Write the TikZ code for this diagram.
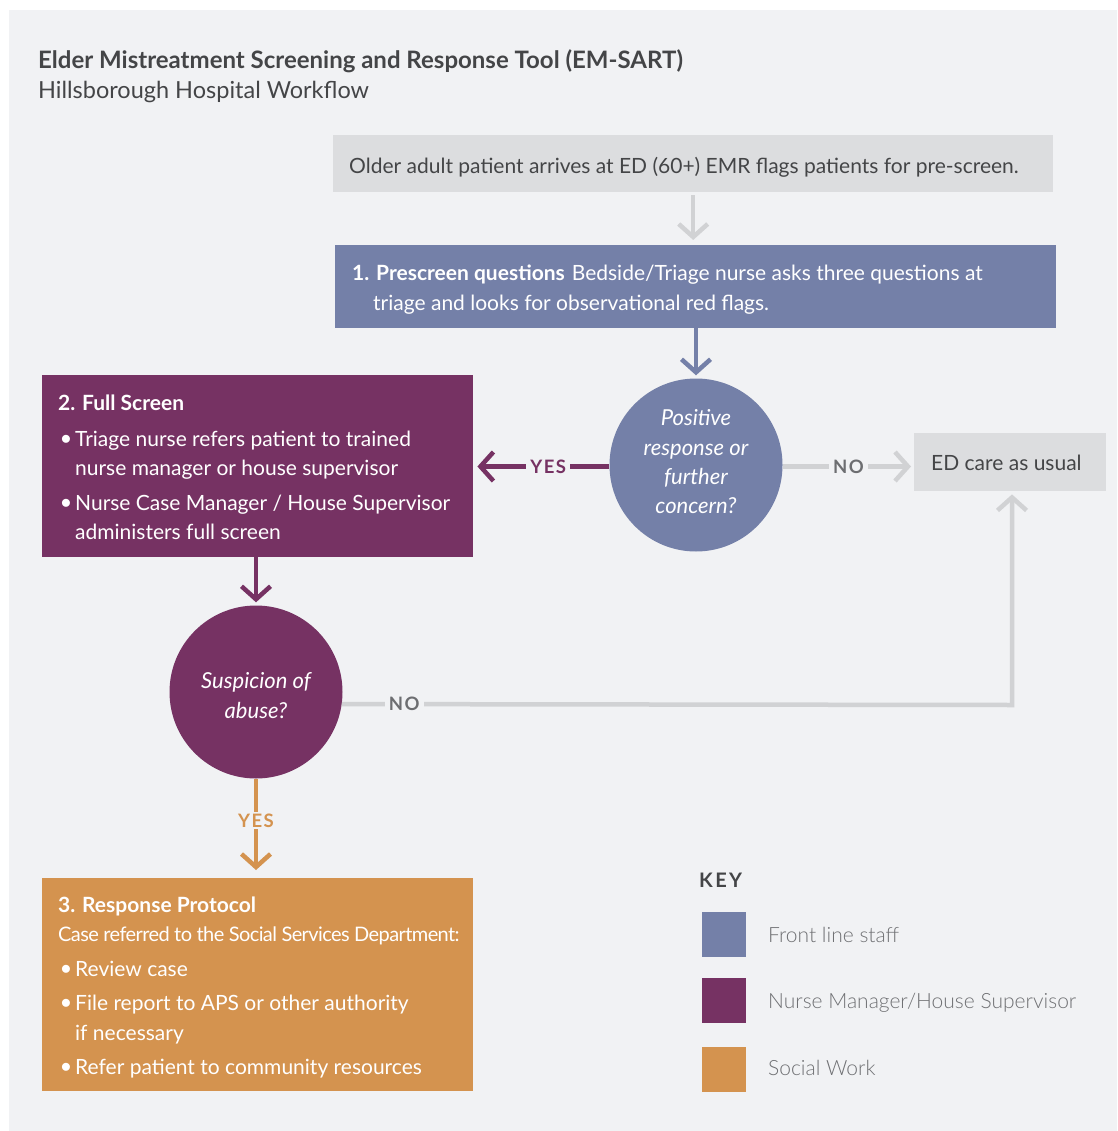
\documentclass[tikz,border=0pt]{standalone}
\usepackage{fontspec}
\setmainfont{Lato}
\newfontfamily\latolight{Lato Light}
\usetikzlibrary{arrows.meta}
\definecolor{bg}{HTML}{F1F2F4}
\definecolor{boxgray}{HTML}{DCDDDF}
\definecolor{linegray}{HTML}{D1D2D4}
\definecolor{fblue}{HTML}{7480A8}
\definecolor{npurple}{HTML}{763263}
\definecolor{sorange}{HTML}{D4934F}
\definecolor{darktext}{HTML}{444547}
\definecolor{keytext}{HTML}{6F7073}
\definecolor{notext}{HTML}{6D6E71}
\newcommand{\bodyfont}{\fontsize{21}{29}\selectfont}
\newcommand{\lblfont}{\fontsize{18.5}{20}\selectfont\bfseries\addfontfeatures{LetterSpace=8}}
\newcommand{\bul}{\makebox[0pt][r]{\raisebox{0.05em}{$\bullet$}\hspace{4pt}}}
\tikzset{
  block/.style={rectangle, inner sep=0pt, anchor=north west, draw=none},
  txt/.style={anchor=base west, inner sep=0pt, font=\bodyfont},
  wtxt/.style={txt, text=white},
  decision/.style={circle, inner sep=0pt, minimum size=173},
  dtext/.style={inner sep=0pt, align=center, text=white, font=\fontsize{22}{29.3}\selectfont\itshape},
  conn/.style={line width=4.5, -{Straight Barb[length=13, width=29, line width=4.5]}},
  lbl/.style={fill=bg, inner xsep=4, inner ysep=2, font=\lblfont},
  keybox/.style={rectangle, inner sep=0pt, minimum width=44, minimum height=45, anchor=north west},
  keylbl/.style={anchor=base west, inner sep=0pt, font=\fontsize{21}{29}\selectfont\latolight, text=keytext},
}
\begin{document}
\begin{tikzpicture}[x=1pt, y=-1pt]
\useasboundingbox (0,0) rectangle (1117,1131);
\fill[white] (0,0) rectangle (1117,1131);
\fill[bg] (9,10) rectangle (1117,1131);

% title
\node[anchor=base west, inner sep=0pt, font=\fontsize{24}{28}\selectfont\bfseries, text=darktext] (title) at (38,69) {Elder Mistreatment Screening and Response Tool (EM-SART)};
\node[anchor=base west, inner sep=0pt, font=\fontsize{23.5}{28}\selectfont, text=darktext] (subtitle) at (38,99) {Hillsborough Hospital Workflow};

% arrival box
\node[block, fill=boxgray, minimum width=720, minimum height=57] (arrive) at (333,135) {};
\node[txt, text=darktext] (arrivetxt) at (349,174) {Older adult patient arrives at ED (60+) EMR flags patients for pre-screen.};

% prescreen box
\node[block, fill=fblue, minimum width=721, minimum height=83] (pre) at (335,245) {};
\node[wtxt] (pre1) at (352,281) {\textbf{1. Prescreen questions}\hspace{7pt}Bedside/Triage nurse asks three questions at};
\node[wtxt] (pre2) at (373,310) {triage and looks for observational red flags.};

% decision 1
\node[decision, fill=fblue] (q1) at (696,465) {};
\node[dtext] (q1txt) at (696,462) {Positive\\response or\\further\\concern?};

% ED care box
\node[block, fill=boxgray, minimum width=192, minimum height=58] (ed) at (914,433) {};
\node[txt, text=darktext] (edtxt) at (931,470) {ED care as usual};

% full screen box
\node[block, fill=npurple, minimum width=431, minimum height=182] (fs) at (42,375) {};
\node[wtxt] (fs0) at (58,410) {\textbf{2. Full Screen}};
\node[wtxt] (fs1) at (75,446) {\bul Triage nurse refers patient to trained};
\node[wtxt] (fs2) at (75,475) {nurse manager or house supervisor};
\node[wtxt] (fs3) at (75,510) {\bul Nurse Case Manager / House Supervisor};
\node[wtxt] (fs4) at (75,539) {administers full screen};

% decision 2
\node[decision, fill=npurple] (q2) at (256,692) {};
\node[dtext, font=\fontsize{22}{30}\selectfont\itshape] (q2txt) at (256,696) {Suspicion of\\abuse?};

% response protocol box
\node[block, fill=sorange, minimum width=431, minimum height=213] (sr) at (42,878) {};
\node[wtxt] (sr0) at (58,912) {\textbf{3. Response Protocol}};
\node[wtxt, font=\fontsize{20}{24}\selectfont\addfontfeatures{LetterSpace=-3}] (sr1) at (58,941) {Case referred to the Social Services Department:};
\node[wtxt] (sr2) at (75,976) {\bul Review case};
\node[wtxt] (sr3) at (75,1010) {\bul File report to APS or other authority};
\node[wtxt] (sr4) at (75,1040) {if necessary};
\node[wtxt] (sr5) at (75,1074) {\bul Refer patient to community resources};

% key
\node[anchor=base west, inner sep=0pt, font=\fontsize{20}{22}\selectfont\bfseries\addfontfeatures{LetterSpace=12}, text=darktext] (key) at (699,887) {KEY};
\node[keybox, fill=fblue] (k1) at (702,912) {};
\node[keybox, fill=npurple] (k2) at (702,978) {};
\node[keybox, fill=sorange] (k3) at (702,1047) {};
\node[keylbl] (k1t) at (768,942) {Front line staff};
\node[keylbl] (k2t) at (768,1008) {Nurse Manager/House Supervisor};
\node[keylbl] (k3t) at (768,1075) {Social Work};

% connectors
\coordinate (q1w) at ([yshift=-1.5]q1.west);
\coordinate (q1e) at ([yshift=-1.5]q1.east);
\draw[conn, linegray, shorten <=3, shorten >=5] (arrive.south) -- (arrive.south |- pre.north);
\draw[conn, fblue, shorten >=3] (q1.north |- pre.south) -- (q1.north);
\draw[conn, npurple, shorten >=4] (q1w) -- (fs.east |- q1w)
  node[lbl, text=npurple, pos=0.45] (yes1) {YES};
\draw[conn, linegray, shorten >=3] (q1e) -- (q1e -| ed.west)
  node[lbl, text=notext, pos=0.5] (no1) {NO};
\draw[conn, npurple, shorten >=3] (q2.north |- fs.south) -- (q2.north);
\coordinate (corner) at (1012,705);
\draw[conn, linegray, shorten >=3] (q2.-8.6) -- (corner) node[lbl, text=notext, pos=0.093] (no2) {NO} -- (corner |- ed.south);
\draw[conn, sorange, shorten >=8] (q2.south) -- (q2.south |- sr.north)
  node[lbl, text=sorange, pos=0.42] (yes2) {YES};
\end{tikzpicture}
\end{document}
